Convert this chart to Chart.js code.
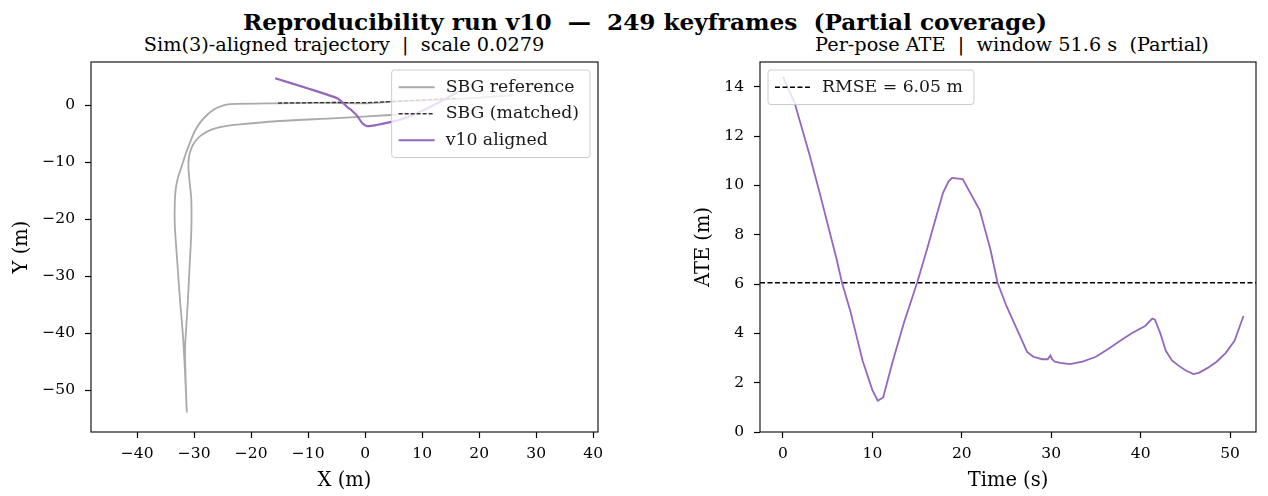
<!DOCTYPE html>
<html>
<head>
<meta charset="utf-8">
<script src="https://cdn.jsdelivr.net/npm/chart.js@4.4.1/dist/chart.umd.min.js"></script>
<style>
  html, body { margin: 0; padding: 0; background: #fff; }
  #wrap { position: relative; width: 1268px; height: 496px; overflow: hidden; background: #fff; }
  #wrap canvas { position: absolute; top: 0; }
  .txt { position: absolute; font-family: 'DejaVu Serif', serif; color: #000; white-space: pre; transform: translate(-50%, -50%); }
  #suptitle { left: 645px; top: 21px; font-size: 23.2px; font-weight: bold; }
  .sub { top: 44px; font-size: 19.3px; }
</style>
</head>
<body>
<div id="wrap">
  <div id="suptitle" class="txt">Reproducibility run v10  —  249 keyframes  (Partial coverage)</div>
  <div class="txt sub" style="left:344px">Sim(3)-aligned trajectory  |  scale 0.0279</div>
  <div class="txt sub" style="left:1012px">Per-pose ATE  |  window 51.6 s  (Partial)</div>
  <canvas id="trajChart" width="634" height="496" style="left:0"></canvas>
  <canvas id="ateChart" width="634" height="496" style="left:634px"></canvas>
</div>
<script>
// --- trajectory (metres) ---
// SBG reference: lower return line, down the inner leg, back up the outer leg, out along the top
const refX = [8, 4.4, -5, -15, -22, -24.5, -26.3, -27.8, -29.0, -29.9, -30.5, -30.9, -31.0, -30.8, -30.5, -30.5, -30.8, -31.2, -31.6, -31.5, -31.3,
              -31.6, -32.0, -32.5, -33.0, -33.4, -33.4, -33.2, -32.8, -32.2, -31.5, -30.7, -29.9, -28.9, -27.7, -26.4, -25.0, -23.7, -15, -5, 0, 5, 15, 26];
const refY = [-1.5, -1.75, -2.3, -2.8, -3.4, -3.7, -4.1, -4.7, -5.5, -6.5, -7.6, -9.0, -11.0, -13.5, -16.6, -22, -28.3, -36, -42.8, -48, -53.8,
              -47, -40, -34, -27, -21, -17, -14.5, -12.6, -10.8, -8.6, -6.5, -4.6, -3.0, -1.7, -0.7, -0.1, 0.15, 0.3, 0.4, 0.3, 0.6, 1.0, 1.7];
const matchedX = [-15.3, -10, -5, 0, 4.4, 10, 16.2];
const matchedY = [0.35, 0.4, 0.45, 0.4, 0.6, 0.9, 1.2];
const alignedX = [-15.8, -10, -4.9, -3.9, -3.2, -2.3, -1.4, -0.5, 0.35, 2, 4.4, 7, 10, 13, 16.2];
const alignedY = [4.7, 2.9, 1.2, 0.4, -0.3, -1.0, -1.9, -3.2, -3.7, -3.5, -3.0, -2.3, -1.0, 0.5, 2.3];

// --- per-pose ATE ---
const ateT = [0, 1.3, 3.0, 4.1, 6.0, 6.6, 7.5, 8.9, 10.0, 10.6, 11.2, 12.3, 13.5, 15.0, 16.1, 16.8, 17.9, 18.5, 18.9, 20.1,
              22.0, 23.2, 24.0, 25.0, 26.5, 27.3, 28.0, 29.0, 29.6, 29.9, 30.1, 30.4, 31.0, 32.1, 33.5, 35.0, 36.5, 37.5,
              39.0, 40.5, 41.3, 41.6, 42.2, 42.8, 43.5, 44.2, 45.0, 45.9, 46.5, 47.5, 48.5, 49.5, 50.5, 51.5];
const ateVal = [14.4, 13.35, 11.2, 9.7, 7.0, 6.05, 4.95, 2.9, 1.7, 1.27, 1.4, 2.9, 4.4, 6.05, 7.4, 8.3, 9.7, 10.15, 10.3, 10.25,
                9.0, 7.4, 6.05, 5.1, 3.9, 3.25, 3.05, 2.95, 2.95, 3.1, 2.95, 2.85, 2.8, 2.75, 2.85, 3.05, 3.4, 3.65,
                4.0, 4.3, 4.6, 4.55, 4.0, 3.3, 2.9, 2.7, 2.5, 2.35, 2.4, 2.6, 2.85, 3.2, 3.7, 4.7];
const rmse = 6.05;

const trajXTicks = [-40, -30, -20, -10, 0, 10, 20, 30, 40];
const trajYTicks = [-50, -40, -30, -20, -10, 0];
const ateXTicks = [0, 10, 20, 30, 40, 50];
const ateYTicks = [0, 2, 4, 6, 8, 10, 12, 14];

const trajXRange = [-48.1, 40.85];
const trajYRange = [-57.36, 7.55];
const ateXRange = [-2.57, 52.9];
const ateYRange = [0, 15];

const FONT = "'DejaVu Serif', serif";
const PURPLE = '#9467bd';

const zip = (xs, ys) => xs.map((x, i) => ({ x: x, y: ys[i] }));
const fmt = v => String(v).replace('-', '\u2212');

// matplotlib-style full frame
const frame = {
    id: 'frame',
    afterDatasetsDraw(chart) {
        const a = chart.chartArea, ctx = chart.ctx;
        ctx.save();
        ctx.strokeStyle = '#1a1a1a';
        ctx.lineWidth = 1.2;
        ctx.strokeRect(a.left, a.top, a.right - a.left, a.bottom - a.top);
        ctx.restore();
    }
};

// legend drawn inside the axes
const boxLegend = {
    id: 'boxLegend',
    afterDatasetsDraw(chart, args, o) {
        if (!o.items) return;
        const ctx = chart.ctx, a = chart.chartArea;
        ctx.save();
        ctx.font = o.fontSize + 'px ' + FONT;
        const ds = o.items.map(i => chart.data.datasets[i]);
        const tw = Math.max(...ds.map(d => ctx.measureText(d.label).width));
        const w = o.pad + o.handle + o.gap + tw + o.padR;
        const h = o.padV * 2 + o.rowH * ds.length;
        const x = o.side === 'right' ? a.right - o.inset - w : a.left + o.inset;
        const y = a.top + o.inset;
        ctx.beginPath();
        ctx.roundRect(x, y, w, h, 3);
        ctx.fillStyle = 'rgba(255,255,255,0.8)';
        ctx.fill();
        ctx.strokeStyle = '#cccccc';
        ctx.lineWidth = 1;
        ctx.stroke();
        ds.forEach((d, k) => {
            const cy = y + o.padV + o.rowH * (k + 0.5);
            ctx.beginPath();
            ctx.setLineDash(d.borderDash || []);
            ctx.strokeStyle = d.borderColor;
            ctx.lineWidth = d.borderWidth;
            ctx.moveTo(x + o.pad, cy);
            ctx.lineTo(x + o.pad + o.handle, cy);
            ctx.stroke();
            ctx.setLineDash([]);
            ctx.fillStyle = '#1a1a1a';
            ctx.textBaseline = 'middle';
            ctx.fillText(d.label, x + o.pad + o.handle + o.gap, cy);
        });
        ctx.restore();
    }
};

function axis(range, ticks, title, size) {
    return {
        type: 'linear',
        min: range[0],
        max: range[1],
        afterBuildTicks: s => { s.ticks = ticks.map(v => ({ value: v })); },
        afterFit: s => { if (s.isHorizontal()) s.height = size; else s.width = size; },
        ticks: { color: '#000', font: { family: FONT, size: 15.5 }, padding: 7, callback: v => fmt(v), maxRotation: 0, autoSkip: false },
        grid: { drawOnChartArea: false, drawTicks: true, tickLength: 6, tickColor: '#000', tickWidth: 1.2 },
        border: { display: false },
        title: { display: true, text: title, color: '#000', font: { family: FONT, size: 19.5 }, padding: { top: 4, bottom: 3 } }
    };
}

function yAxis(range, ticks, title, size) {
    const s = axis(range, ticks, title, size);
    s.ticks.padding = 10;
    return s;
}

Chart.defaults.animation = false;
Chart.defaults.devicePixelRatio = 1;

const legendOpts = { inset: 8, fontSize: 17.3, pad: 7, padR: 11, padV: 4, handle: 36, gap: 11, rowH: 26.5 };

new Chart(document.getElementById('trajChart'), {
    type: 'scatter',
    data: {
        datasets: [
            { label: 'v10 aligned', data: zip(alignedX, alignedY), showLine: true, borderColor: PURPLE, borderWidth: 2.2, pointRadius: 0, tension: 0.2, order: 0 },
            { label: 'SBG (matched)', data: zip(matchedX, matchedY), showLine: true, borderColor: '#333333', borderWidth: 1.3, borderDash: [4, 2], pointRadius: 0, order: 1 },
            { label: 'SBG reference', data: zip(refX, refY), showLine: true, borderColor: '#aaaaaa', borderWidth: 1.8, pointRadius: 0, tension: 0.3, order: 2 }
        ]
    },
    options: {
        responsive: false,
        layout: { padding: { left: 6, top: 62, right: 36, bottom: 0 } },
        scales: {
            x: axis(trajXRange, trajXTicks, 'X (m)', 64),
            y: yAxis(trajYRange, trajYTicks, 'Y (m)', 85)
        },
        plugins: {
            legend: { display: false },
            tooltip: { enabled: false },
            boxLegend: Object.assign({ items: [2, 1, 0], side: 'right' }, legendOpts)
        }
    },
    plugins: [frame, boxLegend]
});

new Chart(document.getElementById('ateChart'), {
    type: 'scatter',
    data: {
        datasets: [
            { label: 'RMSE = ' + rmse.toFixed(2) + ' m', data: zip(ateXRange, [rmse, rmse]), showLine: true, borderColor: '#000', borderWidth: 1.4, borderDash: [5, 2.5], pointRadius: 0, order: 1 },
            { label: 'ATE', data: zip(ateT, ateVal), showLine: true, borderColor: PURPLE, borderWidth: 1.8, pointRadius: 0, order: 0 }
        ]
    },
    options: {
        responsive: false,
        layout: { padding: { left: 54, top: 62, right: 12, bottom: 0 } },
        scales: {
            x: axis(ateXRange, ateXTicks, 'Time (s)', 64),
            y: yAxis(ateYRange, ateYTicks, 'ATE (m)', 72)
        },
        plugins: {
            legend: { display: false },
            tooltip: { enabled: false },
            boxLegend: Object.assign({ items: [0], side: 'left' }, legendOpts)
        }
    },
    plugins: [frame, boxLegend]
});
</script>
</body>
</html>
